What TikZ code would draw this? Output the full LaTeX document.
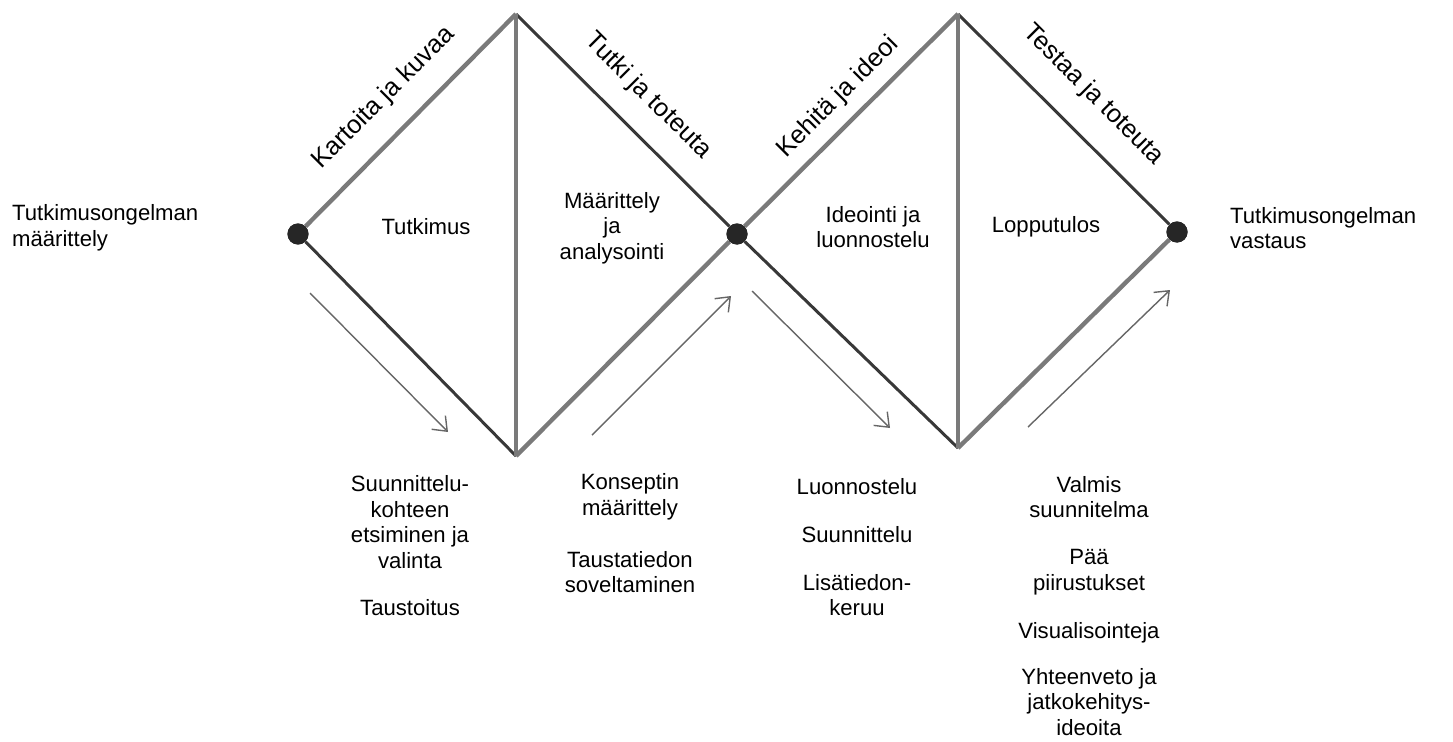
\documentclass[tikz,border=0pt]{standalone}
\usepackage{fontspec}
\setmainfont{Liberation Sans}
\usetikzlibrary{arrows.meta}
\begin{document}
\begin{tikzpicture}[x=0.02cm,y=-0.02cm]
    \tikzstyle{dark} = [line width=1.7pt, draw=black!78]
    \tikzstyle{pale} = [line width=2.5pt, draw=black!52]
    \tikzstyle{arrow} = [-{Straight Barb[length=7pt,width=11pt]}, line width=0.8pt, draw=black!60]
    \tikzstyle{dot} = [circle, fill=black!85, inner sep=0pt, minimum size=12pt]
    \tikzstyle{txt} = [align=center, inner sep=1pt, font=\fontsize{12.6}{14.5}\selectfont]
    \tikzstyle{phase} = [txt, font=\fontsize{14.5}{16}\selectfont]

    \useasboundingbox (0,0) rectangle (1453,741);

    % corners of the two diamonds
    \coordinate (top1) at (516,14);
    \coordinate (bot1) at (516,456);
    \coordinate (top2) at (958,14);
    \coordinate (bot2) at (958,448);

    \node(start) [dot] at (298,234) {};
    \node(mid) [dot] at (737,234) {};
    \node(goal) [dot] at (1177,232) {};

    \draw[pale] (start) -- (top1);
    \draw[dark] (top1) -- (mid);
    \draw[dark] (start) -- (bot1);
    \draw[pale] (bot1) -- (mid);
    \draw[pale] (top1) -- (bot1);
    \draw[pale] (mid) -- (top2);
    \draw[dark] (top2) -- (goal);
    \draw[dark] (mid) -- (bot2);
    \draw[pale] (bot2) -- (goal);
    \draw[pale] (top2) -- (bot2);
    \node[dot] at (start) {};
    \node[dot] at (mid) {};
    \node[dot] at (goal) {};

    % phase names along the edges
    \node(explore) [phase, rotate=45] at (384,98) {Kartoita ja kuvaa};
    \node(study) [phase, rotate=-45] at (648,96) {Tutki ja toteuta};
    \node(develop) [phase, rotate=45] at (838,97) {Kehitä ja ideoi};
    \node(test) [phase, rotate=-45] at (1093,95) {Testaa ja toteuta};

    \node(problem) [txt, align=left] at (10,228) [anchor=west]
        {Tutkimusongelman\\määrittely};
    \node(answer) [txt, align=left] at (1228,228) [anchor=west]
        {Tutkimusongelman\\vastaus};

    \node(research) [txt] at (426,227) {Tutkimus};
    \node(define) [txt] at (612,228) {Määrittely\\ja\\analysointi};
    \node(ideate) [txt] at (873,227) {Ideointi ja\\luonnostelu};
    \node(result) [txt] at (1046,227) {Lopputulos};

    % direction arrows
    \coordinate (a1s) at (310,293);
    \coordinate (a1e) at (448,432);
    \coordinate (a2s) at (592,435);
    \coordinate (a2e) at (731,296);
    \coordinate (a3s) at (752,291);
    \coordinate (a3e) at (890,428);
    \coordinate (a4s) at (1028,427);
    \coordinate (a4e) at (1170,290);
    \draw[arrow] (a1s) -- (a1e);
    \draw[arrow] (a2s) -- (a2e);
    \draw[arrow] (a3s) -- (a3e);
    \draw[arrow] (a4s) -- (a4e);

    % tasks below
    \node(target) [txt] at (410,522) {Suunnittelu-\\kohteen\\etsiminen ja\\valinta};
    \node(background) [txt] at (410,608) {Taustoitus};
    \node(concept) [txt] at (630,497) {Konseptin\\määrittely};
    \node(apply) [txt] at (630,572) {Taustatiedon\\soveltaminen};
    \node(sketch) [txt] at (857,487) {Luonnostelu};
    \node(design) [txt] at (857,535) {Suunnittelu};
    \node(gather) [txt] at (857,595) {Lisätiedon-\\keruu};
    \node(plan) [txt] at (1089,497) {Valmis\\suunnitelma};
    \node(drawings) [txt] at (1089,572) {Pää\\piirustukset};
    \node(visual) [txt] at (1089,633) {Visualisointeja};
    \node(summary) [txt] at (1089,702) {Yhteenveto ja\\jatkokehitys-\\ideoita};
\end{tikzpicture}
\end{document}
